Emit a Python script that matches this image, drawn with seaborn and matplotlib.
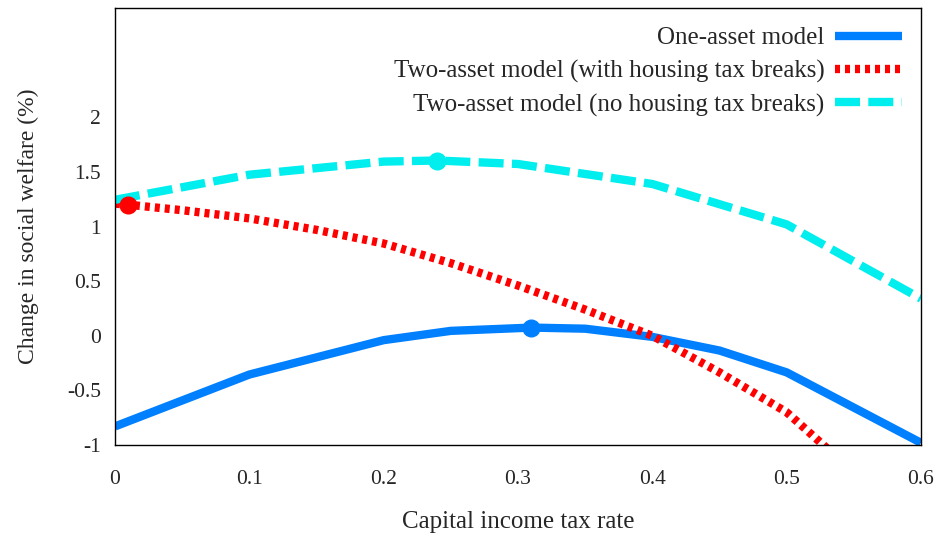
import numpy as np
import pandas as pd
import matplotlib
matplotlib.use("Agg")
import matplotlib.pyplot as plt
import seaborn as sns

# tax rate grid and welfare changes (%)
tax_one = [0.0, 0.1, 0.2, 0.25, 0.31, 0.35, 0.4, 0.45, 0.5, 0.6]
one_asset = [-0.83, -0.355, -0.04, 0.045, 0.075, 0.065, -0.01, -0.135, -0.335, -0.98]

tax_two = [0.0, 0.01, 0.05, 0.1, 0.15, 0.2, 0.25, 0.3, 0.35, 0.4, 0.45, 0.5, 0.55]
two_with = [1.21, 1.2, 1.15, 1.075, 0.97, 0.845, 0.665, 0.46, 0.24, 0.0, -0.335, -0.7, -1.25]

tax_no = [0.0, 0.1, 0.2, 0.24, 0.3, 0.4, 0.5, 0.6]
two_no = [1.245, 1.475, 1.595, 1.605, 1.573, 1.39, 1.02, 0.34]

# optimum markers
opt_x = [0.31, 0.01, 0.24]
opt_y = [0.075, 1.2, 1.605]

labels = ["One-asset model",
          "Two-asset model (with housing tax breaks)",
          "Two-asset model (no housing tax breaks)"]
colors = ["#0080ff", "#ff0000", "#00eeee"]

xticks = [0, 0.1, 0.2, 0.3, 0.4, 0.5, 0.6]
xticklabels = ["0", "0.1", "0.2", "0.3", "0.4", "0.5", "0.6"]
yticks = [-1, -0.5, 0, 0.5, 1, 1.5, 2]
yticklabels = ["-1", "-0.5", "0", "0.5", "1", "1.5", "2"]

sns.set_style("white")
plt.rcParams["font.family"] = ["Liberation Serif", "DejaVu Serif"]
plt.rcParams["axes.unicode_minus"] = False

fig = plt.figure(figsize=(9.44, 5.44), dpi=100)
ax = fig.add_axes([0.1218, 0.182, 0.8538, 0.803])

lw = 6
sns.lineplot(x=tax_one, y=one_asset, ax=ax, color=colors[0], lw=lw,
             label=labels[0], solid_capstyle="butt")
sns.lineplot(x=tax_two, y=two_with, ax=ax, color=colors[1], lw=lw,
             label=labels[1], linestyle=(0, (0.6, 0.6)), dash_capstyle="butt")
sns.lineplot(x=tax_no, y=two_no, ax=ax, color=colors[2], lw=lw,
             label=labels[2], linestyle=(0, (3, 1)), dash_capstyle="butt")

for xv, yv, c in zip(opt_x, opt_y, colors):
    ax.plot([xv], [yv], "o", color=c, markersize=12, zorder=5)

ax.set_xlim(0, 0.6)
ax.set_ylim(-1, 3)
ax.set_xticks(xticks)
ax.set_xticklabels(xticklabels)
ax.set_yticks(yticks)
ax.set_yticklabels(yticklabels)
ax.tick_params(axis="both", length=0, labelsize=15.5)
ax.tick_params(axis="x", pad=18)
ax.tick_params(axis="y", pad=10)

for s in ax.spines.values():
    s.set_color("black")
    s.set_linewidth(1)

ax.set_xlabel("Capital income tax rate", fontsize=18, labelpad=16)
ax.set_ylabel("Change in social welfare (%)", fontsize=17, labelpad=20)

ax.legend(loc="upper right", frameon=False, markerfirst=False,
          handlelength=2.7, fontsize=18, labelspacing=0.42,
          borderaxespad=0.6, borderpad=0.15, handletextpad=0.4)

fig.savefig("out.png", dpi=100)
